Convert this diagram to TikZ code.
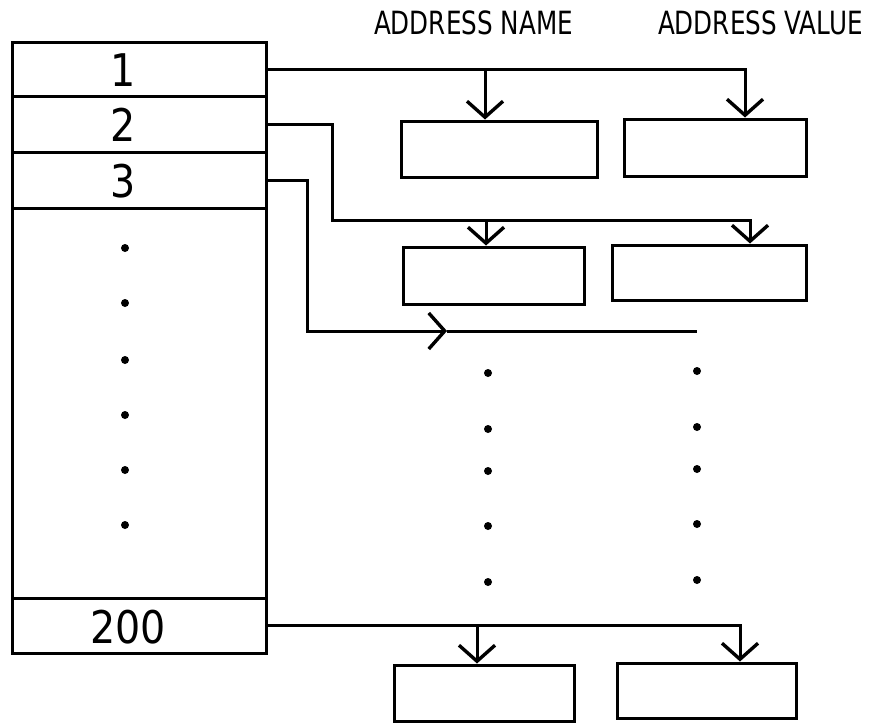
\documentclass[tikz,border=0pt]{standalone}
\usepackage{fontspec}
\setmainfont{DejaVu Sans}
\usetikzlibrary{arrows.meta}
\begin{document}
\begin{tikzpicture}[x=1pt,y=-1pt,
  ln/.style={line width=3pt},
  arr/.style={ln,-{Straight Barb[length=16pt,width=36pt,line width=3.4pt]}},
  cell/.style={draw,line width=3pt,minimum width=254pt,inner sep=0pt},
  mbox/.style={draw,line width=3pt,inner sep=0pt},
  dig/.style={font=\fontsize{45}{45}\selectfont,inner sep=0pt,xscale=0.88},
  hdr/.style={font=\fontsize{32}{32}\selectfont,inner sep=0pt,xscale=0.77},
  dot/.style={circle,fill=black,inner sep=0pt,minimum size=8pt}
]
\useasboundingbox[fill=white] (0,0) rectangle (872,723);
% left column cells
\node[cell,minimum height=54pt] (c1) at (139,69) {};
\node[cell,minimum height=56pt] (c2) at (139,124) {};
\node[cell,minimum height=56pt] (c3) at (139,180) {};
\node[cell,minimum height=390pt] (cm) at (139,403) {};
\node[cell,minimum height=55pt] (c200) at (139,625.5) {};
\node[dig] (l1) at (123,70) {1};
\node[dig] (l2) at (123,125) {2};
\node[dig] (l3) at (123,181) {3};
\node[dig] (l200) at (128,627) {200};
% dots in left column
\foreach \y [count=\i] in {248,303,360,415,470,525} \node[dot] (ld\i) at (125,\y) {};
% headers
\node[hdr] (h1) at (473.5,23) {ADDRESS NAME};
\node[hdr] (h2) at (760.5,23) {ADDRESS VALUE};
% right boxes
\node[mbox,minimum width=196pt,minimum height=56pt] (A1) at (499,149) {};
\node[mbox,minimum width=182pt,minimum height=57pt] (B1) at (715,147.5) {};
\node[mbox,minimum width=181pt,minimum height=57pt] (A2) at (493.5,275.5) {};
\node[mbox,minimum width=194pt,minimum height=55pt] (B2) at (709,272.5) {};
\node[mbox,minimum width=180pt,minimum height=56pt] (A3) at (484,693) {};
\node[mbox,minimum width=179pt,minimum height=55pt] (B3) at (706.5,690.5) {};
% row 1
\draw[arr] (c1.east) -| (745,0 |- B1.north);
\draw[arr] (485,0 |- c1.east) -- (485,0 |- A1.north);
% row 2
\coordinate (k2) at (332,220);
\draw[arr] (c2.east) -| (k2) -| (750,0 |- B2.north);
\draw[arr] (486,0 |- k2) -- (486,0 |- A2.north);
% row 3
\coordinate (k3) at (307,331);
\coordinate (m3) at (447,331);
\coordinate (e3) at (697,331);
\draw[arr] (c3.east) -| (k3) -- (m3);
\draw[ln] (m3) -- (e3);
% row 200
\draw[arr] (c200.east) -| (740,0 |- B3.north);
\draw[arr] (477,0 |- c200.east) -- (477,0 |- A3.north);
% dot columns
\foreach \y [count=\i] in {373,429,471,526,582} \node[dot] (nd\i) at (488,\y) {};
\foreach \y [count=\i] in {371,427,469,524,580} \node[dot] (vd\i) at (697,\y) {};
\end{tikzpicture}
\end{document}
